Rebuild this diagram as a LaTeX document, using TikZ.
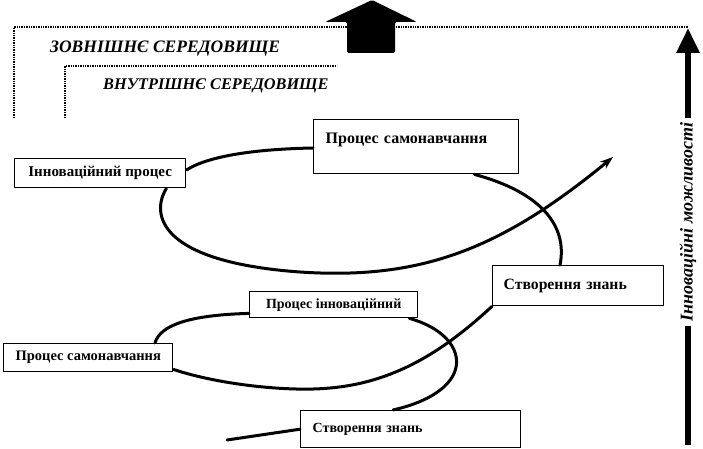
\documentclass[tikz,border=0pt]{standalone}
\usepackage{fontspec}
\setmainfont{Liberation Serif}
\usetikzlibrary{arrows.meta}
\begin{document}
\begin{tikzpicture}[x=1pt,y=-1pt,
  box/.style={draw=black, line width=1.4pt, fill=white, anchor=north west, inner sep=0pt},
  flow/.style={line width=3pt, line cap=round},
  dots/.style={line width=2pt, dash pattern=on 1.4pt off 1pt},
  head/.style={font=\bfseries\itshape\fontsize{17.5}{20}\selectfont, anchor=base west, inner sep=0pt}]
\useasboundingbox (0,0) rectangle (703,449);
\fill[white] (0,0) rectangle (703,449);
% dotted frames
\draw[dots] (14,118) -- (14,27) -- (688,27);
\draw[dots] (65,118) -- (65,66) -- (337,66);
% block arrow at top
\fill[black, rounded corners=1.5pt] (347,53) -- (347,22) -- (325,22) -- (372,0) -- (417,22) -- (395,22) -- (395,53) -- cycle;
% right vertical arrow
\coordinate (vbot) at (688,445);
\coordinate (vtop) at (688,28);
\draw[line width=6pt, -{Triangle[length=25pt,width=22pt]}] (vbot) -- (vtop);
\node[rotate=90, fill=white, inner xsep=5pt, inner ysep=2pt, font=\bfseries\itshape\fontsize{18}{20}\selectfont] (vt) at (688,222) {Інноваційні можливості};
% headings
\node[head] (outer) at (50,53) {ЗОВНІШНЄ СЕРЕДОВИЩЕ};
\node[head, font=\bfseries\itshape\fontsize{16.3}{19}\selectfont] (inner) at (103,90) {ВНУТРІШНЄ СЕРЕДОВИЩЕ};
% boxes
\node[box, minimum width=171pt, minimum height=29pt, font=\bfseries\fontsize{15}{17}\selectfont] (ip) at (14,158) {Інноваційний процес};
\node[box, minimum width=205pt, text width=181pt, align=left, inner xsep=12pt, inner ysep=12pt, text height=12pt, text depth=18pt, font=\bfseries\fontsize{16}{18}\selectfont] (tb) at (313,119) {Процес самонавчання};
\node[box, minimum width=171pt, minimum height=40pt, text width=149pt, align=left, inner xsep=11pt, font=\bfseries\fontsize{15.7}{17}\selectfont] (rb) at (492,265) {Створення знань};
\node[box, minimum width=168pt, minimum height=26pt, font=\bfseries\fontsize{14}{16}\selectfont] (pi) at (249,291) {Процес інноваційний};
\node[box, minimum width=169pt, minimum height=28pt, font=\bfseries\fontsize{14.5}{16}\selectfont] (ll) at (3,343) {Процес самонавчання};
\node[box, minimum width=220pt, minimum height=37pt, text width=196pt, align=left, inner xsep=12pt, font=\bfseries\fontsize{14}{16}\selectfont] (lb) at (300,410) {Створення знань};
% spiral
\coordinate (s0) at (227,440);
\coordinate (tip) at (613,157);
\draw[flow] (s0) -- (lb.west);
\draw[flow] ([xshift=93pt]lb.north west) .. controls (480,390) and (470,335) .. ([xshift=-9pt]pi.south east);
\draw[flow] ([yshift=5pt]pi.south west) .. controls (190,315) and (160,325) .. ([xshift=152pt]ll.north west);
\draw[flow] ([yshift=3pt]ll.south east) .. controls (220,385) and (290,392) .. (330,388) .. controls (400,382) and (450,345) .. (rb.south west);
\draw[flow] ([xshift=68pt]rb.north west) .. controls (568,225) and (540,192) .. ([xshift=-45pt]tb.south east);
\draw[flow] ([yshift=-29pt]tb.north west) .. controls (260,149) and (210,155) .. ([yshift=-12pt]ip.north east);
\draw[flow, -{Stealth[length=13pt,width=9pt]}] ([xshift=-20pt]ip.south east) .. controls (150,215) and (160,262) .. (300,272) .. controls (420,280) and (500,250) .. (tip);
\end{tikzpicture}
\end{document}
